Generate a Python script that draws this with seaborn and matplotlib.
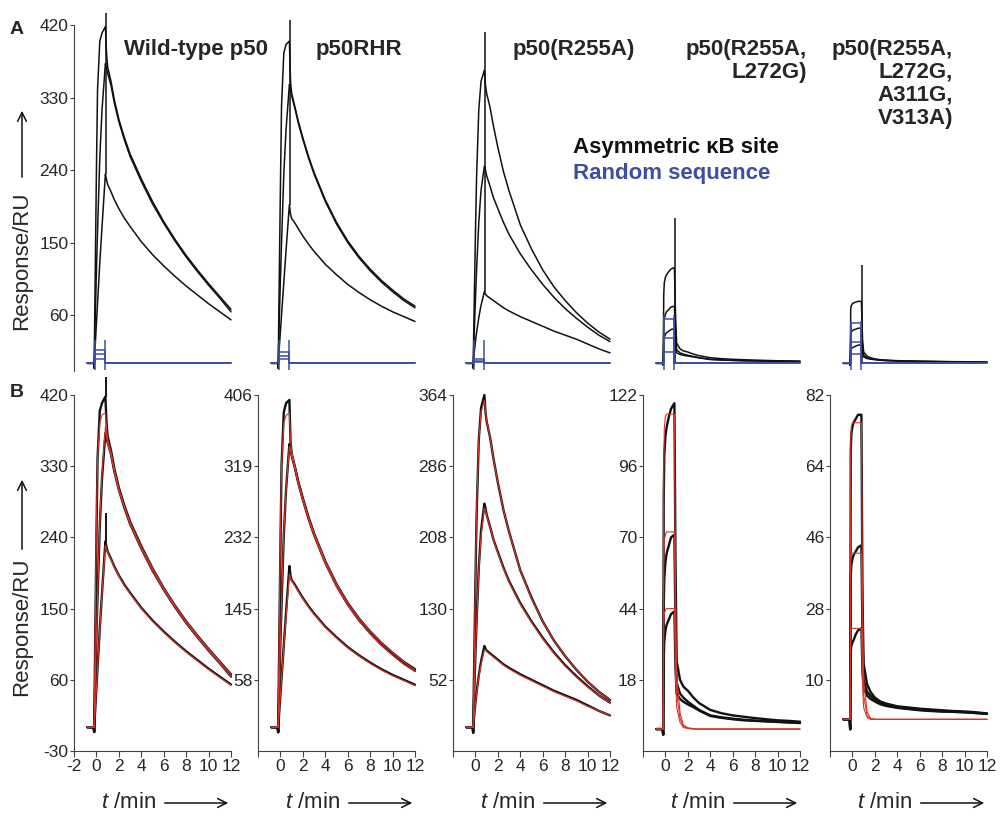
import numpy as np
import pandas as pd
import seaborn as sns
import matplotlib.pyplot as plt

sns.set_style('ticks')
plt.rcParams['font.family'] = ['Liberation Sans', 'DejaVu Sans']
plt.rcParams['mathtext.fontset'] = 'custom'
plt.rcParams['mathtext.it'] = 'Liberation Sans:italic'
plt.rcParams['mathtext.rm'] = 'Liberation Sans'
plt.rcParams['axes.unicode_minus'] = False

# time grid (min) shared by all sensorgrams and fits
T = [-0.8, -0.25, -0.2, -0.15, -0.1, 0.0, 0.1, 0.3, 0.5, 0.8, 0.9, 1.0, 1.3, 1.6,
     2.0, 2.5, 3.0, 4.0, 5.0, 6.0, 7.0, 8.0, 9.0, 10.0, 11.0, 12.0]

# Wild-type p50
wt_hi = [0, 0, -6, 60, 120, 240, 340, 400, 410, 418, 385, 368, 350, 327, 303, 280, 260, 229, 201, 176, 154, 134, 116, 99, 83, 67]
wt_mid = [0, 0, -6, 30, 60, 115, 165, 255, 315, 372, 366, 360, 345, 323, 300, 277, 257, 226, 198, 174, 152, 132, 114, 97, 81, 64]
wt_lo = [0, 0, -6, 12, 24, 50, 75, 125, 170, 235, 228, 222, 213, 203, 192, 180, 170, 151, 135, 121, 108, 96, 85, 74, 64, 54]
wt_hi_fit = [0, 0, 0, 70, 140, 260, 340, 385, 395, 397, 378, 365, 348, 326, 302, 279, 259, 228, 201, 176, 154, 134, 116, 99, 83, 67]
wt_mid_fit = [0, 0, 0, 30, 60, 115, 165, 258, 320, 380, 368, 359, 344, 322, 299, 277, 257, 226, 198, 174, 152, 132, 114, 97, 81, 64]
wt_lo_fit = [0, 0, 0, 12, 24, 50, 75, 125, 170, 230, 226, 221, 212, 202, 191, 179, 169, 150, 134, 120, 107, 95, 84, 73, 63, 53]

# p50RHR
rhr_hi = [0, 0, -6, 55, 110, 220, 320, 385, 396, 400, 350, 335, 318, 300, 280, 257, 237, 203, 175, 152, 133, 117, 103, 91, 80, 71]
rhr_mid = [0, 0, -6, 28, 55, 105, 150, 235, 290, 346, 340, 332, 316, 298, 278, 255, 235, 201, 173, 150, 131, 115, 101, 89, 78, 69]
rhr_lo = [0, 0, -6, 10, 20, 40, 60, 100, 140, 197, 185, 180, 174, 167, 158, 148, 139, 123, 110, 98, 88, 79, 71, 64, 58, 52]
rhr_hi_fit = [0, 0, 0, 65, 130, 240, 320, 372, 381, 384, 352, 337, 319, 300, 280, 257, 237, 203, 175, 152, 133, 117, 103, 91, 80, 70]
rhr_mid_fit = [0, 0, 0, 28, 55, 105, 152, 237, 290, 343, 338, 331, 315, 297, 277, 254, 234, 200, 172, 149, 130, 114, 100, 88, 77, 68]
rhr_lo_fit = [0, 0, 0, 10, 20, 40, 60, 98, 135, 187, 183, 179, 173, 166, 157, 147, 138, 122, 109, 97, 87, 78, 70, 63, 57, 51]

# p50(R255A)
r255_hi = [0, 0, -6, 40, 80, 160, 230, 315, 350, 364, 345, 335, 318, 295, 268, 238, 214, 172, 142, 116, 95, 78, 63, 50, 39, 30]
r255_mid = [0, 0, -6, 20, 40, 80, 115, 175, 215, 245, 240, 233, 220, 206, 192, 175, 160, 136, 116, 98, 82, 68, 56, 45, 35, 27]
r255_lo = [0, 0, -4, 7, 14, 27, 38, 57, 72, 89, 86, 84, 81, 78, 74, 69, 65, 58, 52, 46, 40, 35, 30, 24, 18, 13]
r255_hi_fit = [0, 0, 0, 40, 80, 165, 235, 315, 345, 358, 346, 336, 318, 295, 268, 238, 214, 172, 141, 116, 95, 78, 63, 50, 39, 30]
r255_mid_fit = [0, 0, 0, 20, 40, 80, 113, 172, 210, 240, 238, 232, 220, 206, 191, 174, 159, 135, 115, 97, 81, 67, 55, 44, 35, 27]
r255_lo_fit = [0, 0, 0, 7, 14, 26, 37, 55, 69, 85, 85, 83, 80, 77, 73, 68, 64, 57, 51, 45, 39, 34, 29, 23, 18, 13]

# p50(R255A, L272G)
dbl_hi = [0, 0, -2, 85, 100, 107, 110, 114, 117, 119, 60, 25, 18, 15.5, 14, 11.5, 9.5, 7, 5.8, 5, 4.5, 4, 3.6, 3.2, 3, 2.7]
dbl_mid = [0, 0, -2, 45, 55, 61, 64, 67, 70, 71, 35, 17, 13, 11.5, 10, 8.5, 7, 5, 4.3, 3.8, 3.4, 3.1, 2.9, 2.7, 2.5, 2.3]
dbl_lo = [0, 0, -2, 26, 32, 36, 38, 40, 42, 43, 22, 13, 11, 10, 9, 8, 6.8, 4.8, 4.1, 3.6, 3.2, 3, 2.8, 2.6, 2.4, 2.2]
dbl_hi_fit = [0, 0, 0, 95, 110, 114, 115, 115, 115, 115, 50, 20, 6, 1.5, 0.5, 0.2, 0, 0, 0, 0, 0, 0, 0, 0, 0, 0]
dbl_mid_fit = [0, 0, 0, 62, 69, 71, 72, 72, 72, 72, 32, 13, 4, 1, 0.3, 0.1, 0, 0, 0, 0, 0, 0, 0, 0, 0, 0]
dbl_lo_fit = [0, 0, 0, 38, 42, 43.5, 44, 44, 44, 44, 20, 8, 2.5, 0.6, 0.2, 0, 0, 0, 0, 0, 0, 0, 0, 0, 0, 0]

# p50(R255A, L272G, A311G, V313A)
quad_hi = [0, 0, -2.5, 68, 72, 74, 75, 76, 77, 77, 30, 14, 9, 7, 5.5, 4.5, 4, 3.3, 3, 2.7, 2.5, 2.3, 2.1, 2, 1.8, 1.5]
quad_mid = [0, 0, -2.5, 36, 39, 40.5, 41.5, 42.5, 43.5, 44, 20, 10, 7, 6, 5, 4, 3.6, 3, 2.7, 2.4, 2.2, 2, 1.9, 1.8, 1.6, 1.4]
quad_lo = [0, 0, -2.5, 17, 18.5, 19.5, 20, 21.5, 22.5, 23, 12, 8, 6, 5.2, 4.5, 3.8, 3.4, 2.9, 2.6, 2.3, 2.1, 2, 1.9, 1.8, 1.6, 1.4]
quad_hi_fit = [0, 0, 0, 70, 74, 75, 75, 75, 75, 75, 30, 10, 2, 0.3, 0, 0, 0, 0, 0, 0, 0, 0, 0, 0, 0, 0]
quad_mid_fit = [0, 0, 0, 40, 42, 42, 42, 42, 42, 42, 18, 6, 1, 0.2, 0, 0, 0, 0, 0, 0, 0, 0, 0, 0, 0, 0]
quad_lo_fit = [0, 0, 0, 22, 23, 23, 23, 23, 23, 23, 9, 3, 0.5, 0, 0, 0, 0, 0, 0, 0, 0, 0, 0, 0, 0, 0]

# random-sequence (blue) responses during injection, per panel
blue_t = [-0.8, -0.1, -0.1, 0.8, 0.8, 12.0]
wt_blue = [16, 11, 6]
rhr_blue = [14, 9, 5]
r255_blue = [5, 3, 2]
dbl_blue = [55, 32, 14]
quad_blue = [50, 26, 12]
blue_spike_t = [-0.1, 0.8]
blue_spike_top = [29, 29, 29, 60, 52]
blue_spike_bottom = -8

# injection-end artefacts (row A) and panel-1 artefacts (row B)
spike_t = 0.85
spike_base_a = [235, 197, 89, 0, 0]
spike_top_a = [435, 426, 411, 180, 122]
wt_spike_base_b = [418, 235]
wt_spike_top_b = [443, 271]

titles = ['Wild-type p50', 'p50RHR', 'p50(R255A)', 'p50(R255A,\nL272G)',
          'p50(R255A,\nL272G,\nA311G,\nV313A)']
black = [[wt_hi, wt_mid, wt_lo], [rhr_hi, rhr_mid, rhr_lo], [r255_hi, r255_mid, r255_lo],
         [dbl_hi, dbl_mid, dbl_lo], [quad_hi, quad_mid, quad_lo]]
fits = [[wt_hi_fit, wt_mid_fit, wt_lo_fit], [rhr_hi_fit, rhr_mid_fit, rhr_lo_fit],
        [r255_hi_fit, r255_mid_fit, r255_lo_fit], [dbl_hi_fit, dbl_mid_fit, dbl_lo_fit],
        [quad_hi_fit, quad_mid_fit, quad_lo_fit]]
blues = [wt_blue, rhr_blue, r255_blue, dbl_blue, quad_blue]
a_ticks = [60, 150, 240, 330, 420]
b_ticks = [[-30, 60, 150, 240, 330, 420], [58, 145, 232, 319, 406], [52, 130, 208, 286, 364],
           [18, 44, 70, 96, 122], [10, 28, 46, 64, 82]]
b_ylim = [(-30, 420), (-29, 406), (-26, 364), (-8, 122), (-8, 82)]
x_ticks = [-2, 0, 2, 4, 6, 8, 10, 12]

BLACK = '#111111'
RED = '#d8352a'
BLUE = '#3c4fa0'
SPINE = '#444444'

W, H = 1002, 816
fig = plt.figure(figsize=(W / 100, H / 100), dpi=100)


def box(x0, ytop, w, h):
    return [x0 / W, 1 - (ytop + h) / H, w / W, h / H]


def fx(x):
    return x / W


def fy(y):
    return 1 - y / H


def draw(ax, t, y, color, lw, z):
    sns.lineplot(x=t, y=y, ax=ax, color=color, lw=lw, estimator=None, sort=False,
                 clip_on=False, zorder=z, legend=False)


x0 = [74, 258, 453, 643, 830]
aw = 157

for i in range(5):
    # row A: raw sensorgrams, kB site (black) and random sequence (blue)
    ax = fig.add_axes(box(x0[i], 25, aw, 346.4))
    ax.patch.set_visible(False)
    for y in black[i]:
        draw(ax, T, y, BLACK, 1.1, 2)
    ax.vlines([spike_t], spike_base_a[i], spike_top_a[i], color=BLACK, lw=1.1, clip_on=False, zorder=2)
    for lvl in blues[i]:
        draw(ax, blue_t, [0, 0, lvl, lvl, 0, 0], BLUE, 1.1, 3)
    ax.vlines(blue_spike_t, blue_spike_bottom, blue_spike_top[i], color=BLUE, lw=1.1, zorder=3)
    ax.set_xlim(-2, 12)
    ax.set_ylim(-10, 420)
    ax.set_xlabel('')
    ax.set_ylabel('')
    ax.set_xticks([])
    sns.despine(ax=ax, bottom=True, left=(i > 0))
    if i == 0:
        ax.set_yticks(a_ticks)
        ax.spines['left'].set_color(SPINE)
        ax.spines['left'].set_linewidth(0.8)
        ax.tick_params(axis='y', length=3, width=0.8, pad=1, labelsize=12.5, color=SPINE)
    else:
        ax.set_yticks([])

    # row B: sensorgrams with fits (red)
    bx = fig.add_axes(box(x0[i], 395, aw, 356))
    bx.patch.set_visible(False)
    for y in black[i]:
        draw(bx, T, y, BLACK, 1.7, 2)
    for y in fits[i]:
        draw(bx, T, y, RED, 0.8, 3)
    if i == 0:
        bx.vlines([spike_t, spike_t], wt_spike_base_b, wt_spike_top_b, color=BLACK, lw=1.4,
                  clip_on=False, zorder=2)
    bx.set_xlim(-2, 12)
    bx.set_ylim(*b_ylim[i])
    bx.set_xlabel('')
    bx.set_ylabel('')
    bx.set_xticks(x_ticks)
    bx.set_xticklabels([str(v) if (i == 0 or v != -2) else '' for v in x_ticks])
    bx.set_yticks(b_ticks[i])
    sns.despine(ax=bx)
    for s in ['left', 'bottom']:
        bx.spines[s].set_color(SPINE)
        bx.spines[s].set_linewidth(0.8)
    bx.tick_params(axis='y', length=3, width=0.8, pad=1, labelsize=12.5, color=SPINE)
    bx.tick_params(axis='x', length=4, width=0.8, pad=2, labelsize=12.5, color=SPINE)

    # x label with long arrow
    fig.text(fx(x0[i] + 0.52 * aw), fy(803), r'$t$ /min', ha='right', va='center', fontsize=16)
    fig.add_artist(plt.matplotlib.patches.FancyArrowPatch(
        (fx(x0[i] + 0.56 * aw), fy(803)), (fx(x0[i] + aw), fy(803)),
        transform=fig.transFigure, arrowstyle='->', mutation_scale=16, lw=1.1, color=BLACK))

# panel titles
fig.text(fx(124), fy(49), titles[0], ha='left', va='center', fontsize=16, weight='bold')
fig.text(fx(316), fy(49), titles[1], ha='left', va='center', fontsize=16, weight='bold')
fig.text(fx(513), fy(50), titles[2], ha='left', va='center', fontsize=16, weight='bold')
fig.text(fx(807), fy(39), titles[3], ha='right', va='top', fontsize=16, weight='bold',
         multialignment='right', linespacing=1.12)
fig.text(fx(953), fy(39), titles[4], ha='right', va='top', fontsize=16, weight='bold',
         multialignment='right', linespacing=1.12)

# legend text
fig.text(fx(573), fy(147), 'Asymmetric κB site', ha='left', va='center', fontsize=16,
         weight='bold', color=BLACK)
fig.text(fx(573), fy(174), 'Random sequence', ha='left', va='center', fontsize=16,
         weight='bold', color=BLUE)

# panel letters
fig.text(fx(17), fy(30), 'A', ha='center', va='center', fontsize=14, weight='bold')
fig.text(fx(17), fy(392), 'B', ha='center', va='center', fontsize=14, weight='bold')

# y labels with arrows
for yc, a0, a1 in [(261, 180, 108), (627, 552, 477)]:
    fig.text(fx(22), fy(yc), 'Response/RU', rotation=90, ha='center', va='center', fontsize=16)
    fig.add_artist(plt.matplotlib.patches.FancyArrowPatch(
        (fx(22), fy(a0)), (fx(22), fy(a1)), transform=fig.transFigure,
        arrowstyle='->', mutation_scale=16, lw=1.1, color=BLACK))

fig.savefig('out.png', dpi=100)
